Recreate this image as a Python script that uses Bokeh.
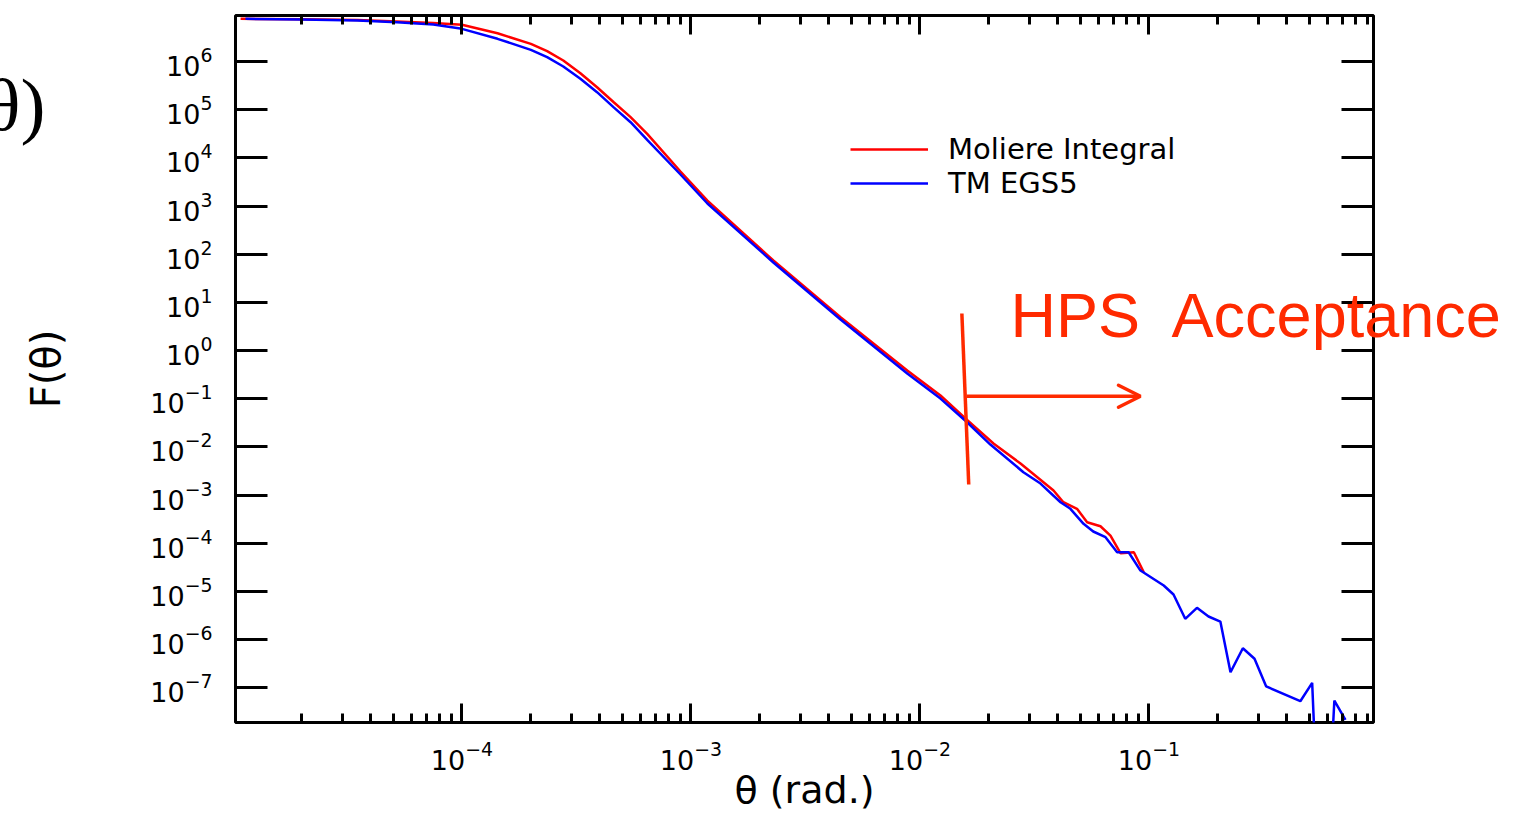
from bokeh.plotting import figure
from bokeh.models import (Range1d, LogAxis, FixedTicker, LogTickFormatter, CustomJSTickFormatter,
                          Legend, LegendItem, Arrow, OpenHead)
from bokeh.embed import file_html
from bokeh.resources import INLINE

# ---------------- data ----------------
theta_moliere = [1.08e-5, 2.0e-5, 3.5e-5, 5.2e-5, 7.5e-5, 1.0e-4, 1.43e-4, 2.0e-4, 2.355e-4,
                 2.77e-4, 3.29e-4, 3.89e-4, 4.60e-4, 5.45e-4, 6.44e-4, 9.0e-4, 1.18e-3,
                 2.29e-3, 4.5e-3, 8.8e-3, 1.229e-2, 1.606e-2, 2.094e-2, 2.748e-2, 3.83e-2,
                 4.23e-2, 4.85e-2, 5.37e-2, 6.14e-2, 6.79e-2, 7.52e-2, 8.59e-2, 9.49e-2]
F_moliere = [7.7e6, 7.55e6, 7.26e6, 6.76e6, 6.30e6, 5.78e6, 3.86e6, 2.33e6, 1.64e6,
             1.05e6, 5.71e5, 2.93e5, 1.43e5, 7.0e4, 3.16e4, 5.21e3, 1.30e3,
             74.0, 4.93, 0.386, 0.117, 0.0366, 0.01178, 4.53e-3, 1.245e-3,
             7.12e-4, 5.20e-4, 2.74e-4, 2.26e-4, 1.45e-4, 6.22e-5, 6.53e-5, 2.51e-5]

theta_egs5 = [1.134e-5, 2.0e-5, 3.5e-5, 5.2e-5, 7.5e-5, 1.0e-4, 1.43e-4, 2.0e-4, 2.355e-4,
              2.77e-4, 3.29e-4, 3.89e-4, 4.60e-4, 5.45e-4, 6.44e-4, 9.0e-4, 1.18e-3,
              2.29e-3, 4.5e-3, 8.8e-3, 1.229e-2, 1.606e-2, 2.03e-2, 2.83e-2, 3.36e-2,
              4.11e-2, 4.54e-2, 5.18e-2, 5.71e-2, 6.46e-2, 7.26e-2, 8.15e-2, 9.18e-2,
              0.116, 0.128, 0.144, 0.162, 0.182, 0.205, 0.227, 0.257, 0.289, 0.325,
              0.458, 0.516, 0.573, 0.645, 0.721]
F_egs5 = [7.69e6, 7.45e6, 7.10e6, 6.54e6, 5.86e6, 4.77e6, 2.96e6, 1.75e6, 1.23e6,
          7.87e5, 4.37e5, 2.31e5, 1.12e5, 5.50e4, 2.37e4, 4.52e3, 1.13e3,
          67.3, 4.41, 0.334, 0.101, 0.0326, 0.01122, 2.99e-3, 1.74e-3,
          7.12e-4, 5.20e-4, 2.54e-4, 1.76e-4, 1.34e-4, 6.53e-5, 6.53e-5, 2.72e-5,
          1.33e-5, 8.65e-6, 2.71e-6, 4.58e-6, 3.03e-6, 2.38e-6, 2.11e-7, 6.65e-7, 4.01e-7, 1.07e-7,
          5.28e-8, 1.27e-7, 1e-12, 5.46e-8, 2.17e-8]   # 1e-12: empty bin (drops below axis)

series_labels = ["Moliere Integral", "TM EGS5"]
x_title = "θ (rad.)"
y_title = "F(θ)"
annotation_text = "HPS\u00a0 Acceptance"
corner_text = "θ)"

x_major_ticks = [1e-4, 1e-3, 1e-2, 1e-1]
x_minor_ticks = [m * 10.0 ** k for k in range(-5, 0) for m in range(2, 10)]
y_major_ticks = [10.0 ** k for k in range(-7, 7)]

# acceptance annotation, in data units
accept_line_theta = [0.01524, 0.01633]
accept_line_F = [5.9, 1.66e-3]
arrow_theta = [0.0160, 0.0918]
arrow_F = 0.113
annotation_F = 5.47          # vertical centre of the "HPS Acceptance" text
corner_F = 1.31e5            # vertical centre of the slide-text fragment

FONT = "DejaVu Sans"
RED = "#ff0000"
BLUE = "#0000ff"
ANN = "#ff2a00"

p = figure(width=1510, height=815, x_axis_type="log", y_axis_type="log",
           x_range=Range1d(1.026e-5, 0.956), y_range=Range1d(1.91e-8, 9.02e6),
           output_backend="svg", toolbar_location=None,
           min_border_left=235, min_border_right=137, min_border_top=15, min_border_bottom=93,
           background_fill_color="white", border_fill_color="white")
p.grid.visible = False
p.outline_line_color = "black"
p.outline_line_width = 3
p.outline_line_alpha = 1.0

xt = FixedTicker(ticks=x_major_ticks, minor_ticks=x_minor_ticks)
yt = FixedTicker(ticks=y_major_ticks, minor_ticks=[])


def style_axis(ax, major_in, minor_in, labels):
    ax.axis_line_color = None
    ax.major_tick_in = major_in
    ax.major_tick_out = 0
    ax.minor_tick_in = minor_in
    ax.minor_tick_out = 0
    ax.major_tick_line_width = 3
    ax.minor_tick_line_width = 3
    ax.major_tick_line_color = "black"
    ax.minor_tick_line_color = "black"
    if labels:
        ax.major_label_text_font = FONT
        ax.major_label_text_font_size = "27px"
        ax.major_label_text_color = "black"
    else:
        ax.formatter = CustomJSTickFormatter(code="return ''")
        ax.major_label_standoff = 0
        ax.major_label_text_font_size = "1px"


xax = p.xaxis[0]
xax.ticker = xt
xax.formatter = LogTickFormatter()
style_axis(xax, 19, 9, True)
xax.major_label_standoff = 18
xax.axis_label = x_title
xax.axis_label_text_font = FONT
xax.axis_label_text_font_size = "38px"
xax.axis_label_text_font_style = "normal"
xax.axis_label_text_color = "black"
xax.axis_label_standoff = -5

yax = p.yaxis[0]
yax.ticker = yt
yax.formatter = LogTickFormatter()
style_axis(yax, 32, 0, True)
yax.major_label_standoff = 23
yax.axis_label = y_title
yax.axis_label_text_font = FONT
yax.axis_label_text_font_size = "40px"
yax.axis_label_text_font_style = "normal"
yax.axis_label_text_color = "black"
yax.axis_label_standoff = 78

top = LogAxis(ticker=xt)
style_axis(top, 19, 9, False)
p.add_layout(top, "above")
right = LogAxis(ticker=yt)
style_axis(right, 32, 0, False)
p.add_layout(right, "right")


def text_axis(text, tick, font, size, color, standoff):
    ax = LogAxis(ticker=FixedTicker(ticks=[tick], minor_ticks=[]),
                 formatter=CustomJSTickFormatter(args=dict(t=text), code="return t"))
    ax.axis_line_color = None
    ax.major_tick_in = 0
    ax.major_tick_out = 0
    ax.minor_tick_in = 0
    ax.minor_tick_out = 0
    ax.major_label_standoff = standoff
    ax.major_label_text_font = font
    ax.major_label_text_font_size = size
    ax.major_label_text_color = color
    return ax


# "HPS  Acceptance" annotation (runs over the right frame edge, as in the reference)
hps_axis = text_axis(annotation_text, annotation_F, "Liberation Sans", "63px", ANN, -363)
p.add_layout(hps_axis, "right")

# fragment of the slide's text at the top-left corner
corner_axis = text_axis(corner_text, corner_F, "Liberation Serif", "75px", "black", -25)
corner_axis.axis_label = "\u00a0"
corner_axis.axis_label_text_font_size = "1px"
corner_axis.axis_label_standoff = -40
p.add_layout(corner_axis, "left")

r1 = p.line(theta_moliere, F_moliere, line_color=RED, line_width=2.5)
r2 = p.line(theta_egs5, F_egs5, line_color=BLUE, line_width=2.5)

legend = Legend(items=[LegendItem(label=series_labels[0], renderers=[r1]),
                       LegendItem(label=series_labels[1], renderers=[r2])],
                location=(615, 522), orientation="vertical", padding=0, spacing=-6, margin=0,
                glyph_width=78, glyph_height=20, label_standoff=20,
                label_text_font=FONT, label_text_font_size="29px", label_text_color="black",
                border_line_color=None, background_fill_alpha=0)
p.add_layout(legend)

# acceptance marker
p.add_layout(Arrow(end=None, x_start=accept_line_theta[0], y_start=accept_line_F[0],
                   x_end=accept_line_theta[1], y_end=accept_line_F[1],
                   line_color=ANN, line_width=3.5))
p.add_layout(Arrow(end=OpenHead(size=22, line_color=ANN, line_width=3.5, line_cap="round"),
                   x_start=arrow_theta[0], y_start=arrow_F, x_end=arrow_theta[1], y_end=arrow_F,
                   line_color=ANN, line_width=3.5))

open("out.html", "w").write(file_html(p, INLINE))
